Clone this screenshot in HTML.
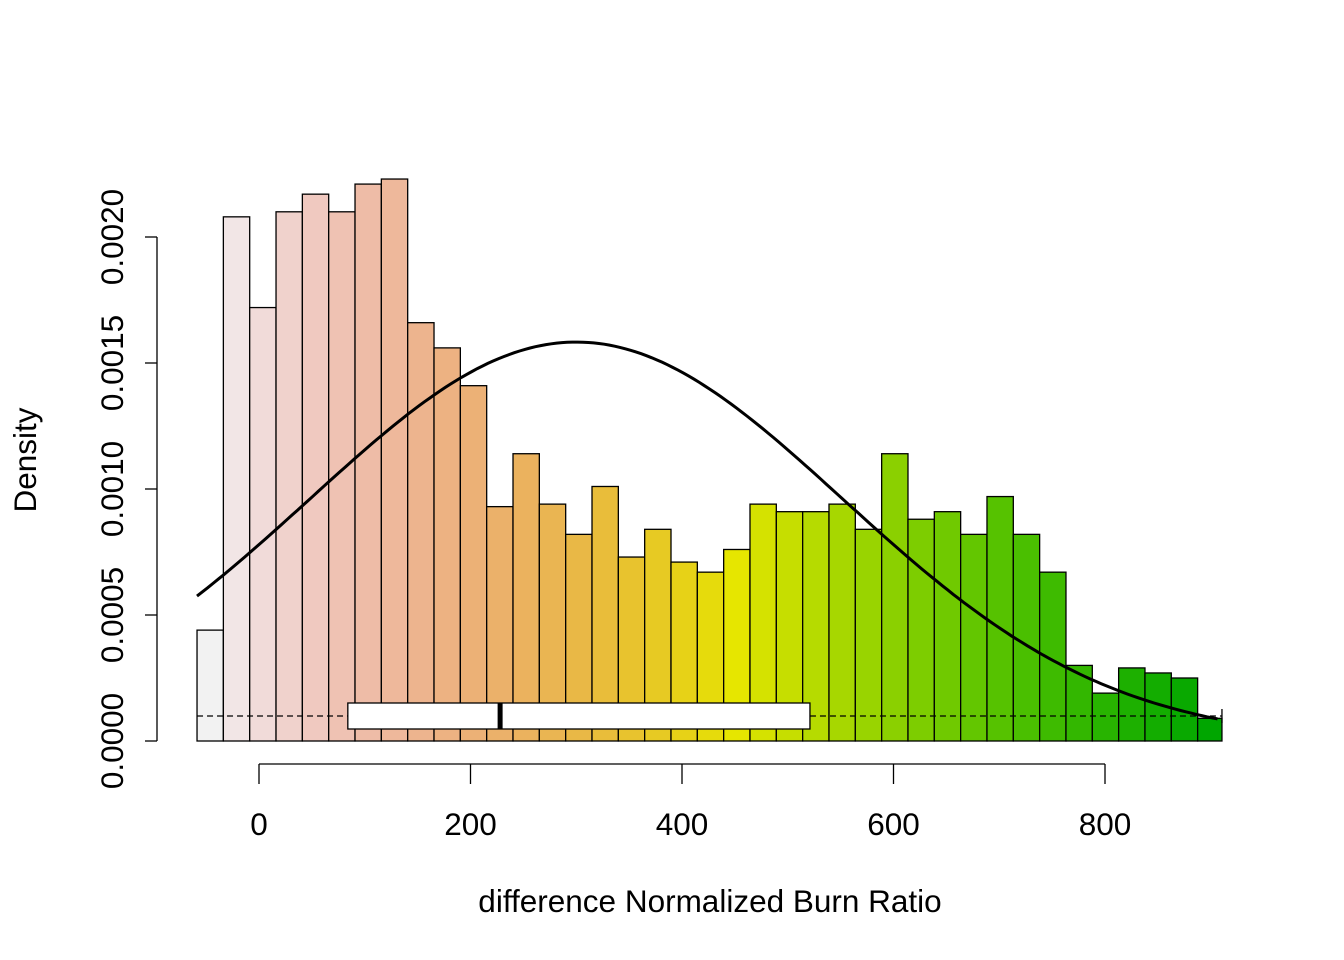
<!DOCTYPE html>
<html><head><meta charset="utf-8"><style>
html,body{margin:0;padding:0;background:#fff}
svg{display:block;font-family:"Liberation Sans",Arial,sans-serif}
</style></head><body>
<svg id="chart" width="1344" height="960" viewBox="0 0 1344 960">
<g id="bars"></g>
<g id="curve"></g>
<g id="box"></g>
<g id="axes"></g>
<text x="710" y="912" font-size="31.5" text-anchor="middle">difference Normalized Burn Ratio</text>
<text transform="translate(36,460) rotate(-90)" font-size="31.5" text-anchor="middle">Density</text>
</svg>
<script>
const binStart = -58.6;
const binWidth = 24.9;
const dataMax = 910.6;
const densities = [0.00044,0.00208,0.00172,0.00210,0.00217,0.00210,0.00221,0.00223,0.00166,0.00156,0.00141,0.00093,0.00114,0.00094,0.00082,0.00101,0.00073,0.00084,0.00071,0.00067,0.00076,0.00094,0.00091,0.00091,0.00094,0.00084,0.00114,0.00088,0.00091,0.00082,0.00097,0.00082,0.00067,0.00030,0.00019,0.00029,0.00027,0.00025,0.00009];
const xTicks = [0,200,400,600,800];
const yTicks = [0,0.0005,0.0010,0.0015,0.0020];
const yTickLabels = ["0.0000","0.0005","0.0010","0.0015","0.0020"];
const normMean = 300;
const normSd = 252;
const boxStats = [-58.6, 84, 228, 521, 910.6]; // min, q1, median, q3, max

const NS="http://www.w3.org/2000/svg";
const X = v => 259 + v*1.0575;
const Y = v => 741 - v*252000;
function mk(tag, attrs, parent){const e=document.createElementNS(NS,tag);for(const k in attrs)e.setAttribute(k,attrs[k]);parent.appendChild(e);return e;}
function hsv(h,s,v){const i=Math.floor(h*6),f=h*6-i,p=v*(1-s),q=v*(1-f*s),t=v*(1-(1-f)*s);let r,g,b;switch(i%6){case 0:r=v;g=t;b=p;break;case 1:r=q;g=v;b=p;break;case 2:r=p;g=v;b=t;break;case 3:r=p;g=q;b=v;break;case 4:r=t;g=p;b=v;break;default:r=v;g=p;b=q;}return `rgb(${Math.round(r*255)},${Math.round(g*255)},${Math.round(b*255)})`;}
function terrain(n){const k=Math.floor(n/2),out=[];const seq=(a,b,m)=>Array.from({length:m},(_,i)=>m==1?a:a+(b-a)*i/(m-1));
 const h1=seq(4/12,2/12,k),s1=seq(1,1,k),v1=seq(0.65,0.9,k);for(let i=0;i<k;i++)out.push(hsv(h1[i],s1[i],v1[i]));
 const m=n-k+1,h2=seq(2/12,0,m),s2=seq(1,0,m),v2=seq(0.9,0.95,m);for(let i=1;i<m;i++)out.push(hsv(h2[i],s2[i],v2[i]));return out;}
const cols = terrain(densities.length).reverse();
const bars=document.getElementById('bars');
densities.forEach((d,i)=>{
 const a=binStart+i*binWidth, b=Math.min(a+binWidth,dataMax);
 const r=mk('rect',{x:X(a),y:Y(d),width:X(b)-X(a),height:Y(0)-Y(d),fill:cols[i],stroke:'#000','stroke-width':1.3},bars);
 
 
});
const cg=document.getElementById('curve');let pts=[];
for(let x=binStart;x<=dataMax;x+=5){const dd=Math.exp(-0.5*((x-normMean)/normSd)**2)/(normSd*Math.sqrt(2*Math.PI));pts.push(X(x).toFixed(1)+','+Y(dd).toFixed(1));}
const pl=mk('polyline',{points:pts.join(' '),fill:'none',stroke:'#000','stroke-width':3},cg);


const bg=document.getElementById('box');const by=716;
let w=mk('line',{x1:X(boxStats[0]),x2:X(boxStats[1]),y1:by,y2:by,stroke:'#000','stroke-dasharray':'6,4','stroke-width':1.3},bg);

w=mk('line',{x1:X(boxStats[3]),x2:X(boxStats[4]),y1:by,y2:by,stroke:'#000','stroke-dasharray':'6,4','stroke-width':1.3},bg);

w=mk('line',{x1:X(boxStats[4]),x2:X(boxStats[4]),y1:by-7,y2:by+7,stroke:'#000','stroke-width':1.3},bg);

w=mk('rect',{x:X(boxStats[1]),y:by-13,width:X(boxStats[3])-X(boxStats[1]),height:26,fill:'#fff',stroke:'#000','stroke-width':1.3},bg);

w=mk('line',{x1:X(boxStats[2]),x2:X(boxStats[2]),y1:by-13,y2:by+13,stroke:'#000','stroke-width':5},bg);

const ag=document.getElementById('axes');
let l=mk('line',{x1:157,x2:157,y1:Y(yTicks[yTicks.length-1]),y2:Y(0),stroke:'#000','stroke-width':1.3},ag);

yTicks.forEach((v,i)=>{
 const t=mk('line',{x1:145,x2:157,y1:Y(v),y2:Y(v),stroke:'#000','stroke-width':1.3},ag);
 
 const tx=mk('text',{transform:`translate(123,${Y(v)}) rotate(-90)`,'font-size':31.5,'text-anchor':'middle'},ag);tx.textContent=yTickLabels[i];
 
});
l=mk('line',{x1:X(xTicks[0]),x2:X(xTicks[xTicks.length-1]),y1:764,y2:764,stroke:'#000','stroke-width':1.3},ag);

xTicks.forEach(v=>{
 const t=mk('line',{x1:X(v),x2:X(v),y1:764,y2:784,stroke:'#000','stroke-width':1.3},ag);
 
 const tx=mk('text',{x:X(v),y:835,'font-size':31.5,'text-anchor':'middle'},ag);tx.textContent=v;
 
});
</script>
</body></html>
